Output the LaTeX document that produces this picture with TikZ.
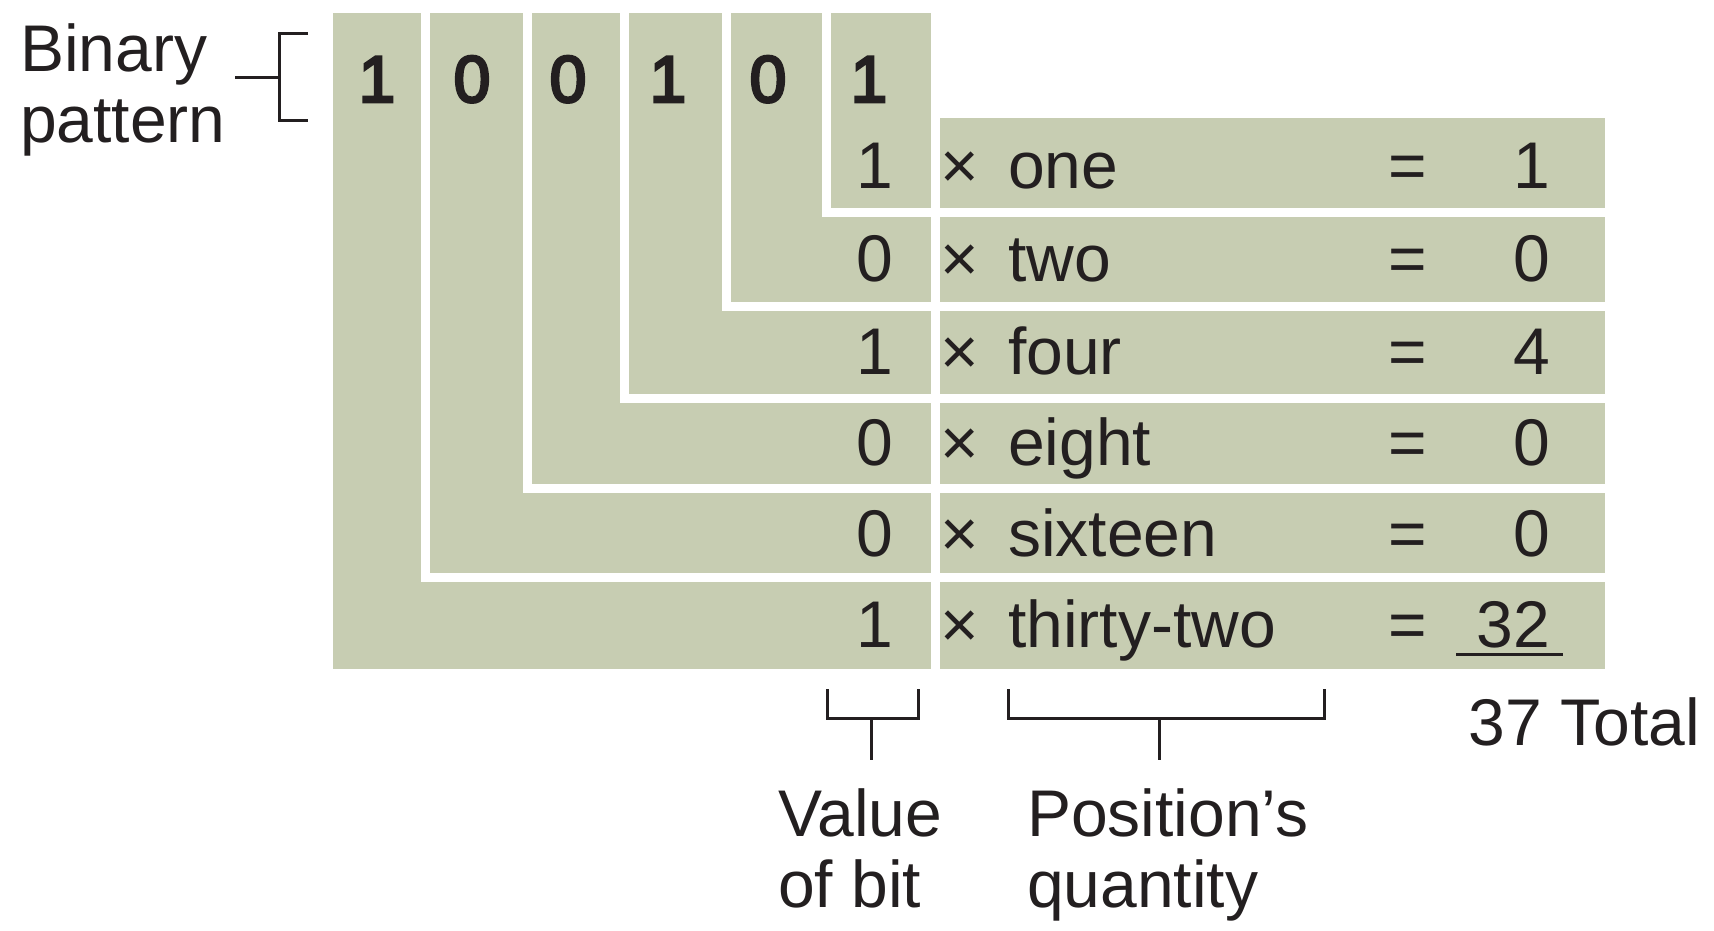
\documentclass[tikz,border=0pt]{standalone}
\usepackage{fontspec}
\setmainfont{Liberation Sans}
\newfontfamily\semibold[FakeBold=4]{Liberation Sans}
\usetikzlibrary{positioning}
\definecolor{sage}{RGB}{199,205,178}
\definecolor{ink}{RGB}{35,31,32}
\tikzstyle{block} = [fill=sage,draw=none]
\tikzstyle{gap} = [draw=white,line width=9pt]
\tikzstyle{txt} = [inner sep=0,text=ink,font=\fontsize{66}{71}\selectfont]
\tikzstyle{bitval} = [txt,font=\fontsize{66}{71}\semibold]
\tikzstyle{bracket} = [draw=ink,line width=3pt]
\def \stem {42}

\begin{document}
\begin{tikzpicture}[x=1pt,y=-1pt]
  \useasboundingbox (0,0) rectangle (1714,930);
  \fill[block] (333,13) rectangle (931,669);
  \fill[block] (940,118) rectangle (1605,669);
  \draw[gap] (425,0) |- (1615,577);
  \draw[gap] (527,0) |- (1615,488);
  \draw[gap] (624,0) |- (1615,398);
  \draw[gap] (726,0) |- (1615,306);
  \draw[gap] (826,0) |- (1615,212);
  \draw[gap] (935.5,110) -- (935.5,680);

  \node[txt,anchor=base west,align=left] (binary) at (20,142) {Binary\\pattern};
  \coordinate (bp) at (235,77);
  \draw[bracket] (bp) -- +(44,0);
  \draw[bracket] (308,33) -- (279,33) -- (279,120) -- (308,120);

  \node[bitval,anchor=base] (d1) at (377,102) {1};
  \node[bitval,anchor=base] (d2) at (472,102) {0};
  \node[bitval,anchor=base] (d3) at (568,102) {0};
  \node[bitval,anchor=base] (d4) at (668,102) {1};
  \node[bitval,anchor=base] (d5) at (768,102) {0};
  \node[bitval,anchor=base] (d6) at (869,102) {1};

  \foreach \y/\v/\w/\r [count=\i] in {188/1/one/1, 281/0/two/0, 374/1/four/4, 465/0/eight/0, 556/0/sixteen/0, 647/1/thirty-two/32} {
    \node[txt,anchor=base east] (v\i) at (893,\y) {\v};
    \node[txt,anchor=base] (x\i) at (960,\y) {×};
    \node[txt,anchor=base west] (w\i) at (1008,\y) {\w};
    \node[txt,anchor=base] (q\i) at (1408,\y) {=};
    \node[txt,anchor=base east] (r\i) at (1550,\y) {\r};
  }
  \draw[bracket] ([xshift=-20pt,yshift=-7pt]r6.south west) -- ([xshift=13pt,yshift=-7pt]r6.south east);
  \node[txt,anchor=base east] (total) at (1700,745) {37 Total};

  \node[txt,anchor=base west,align=left] (valbit) at (778,907) {Value\\of bit};
  \node[txt,anchor=base west,align=left] (posq) at (1027,907) {Position’s\\quantity};
  \coordinate (vb) at (871,718);
  \coordinate (pq) at (1159,718);
  \draw[bracket] (827,689) -- (827,718) -- (918,718) -- (918,689);
  \draw[bracket] (1008,689) -- (1008,718) -- (1324,718) -- (1324,689);
  \draw[bracket] (vb) -- +(0,\stem);
  \draw[bracket] (pq) -- +(0,\stem);
\end{tikzpicture}
\end{document}
